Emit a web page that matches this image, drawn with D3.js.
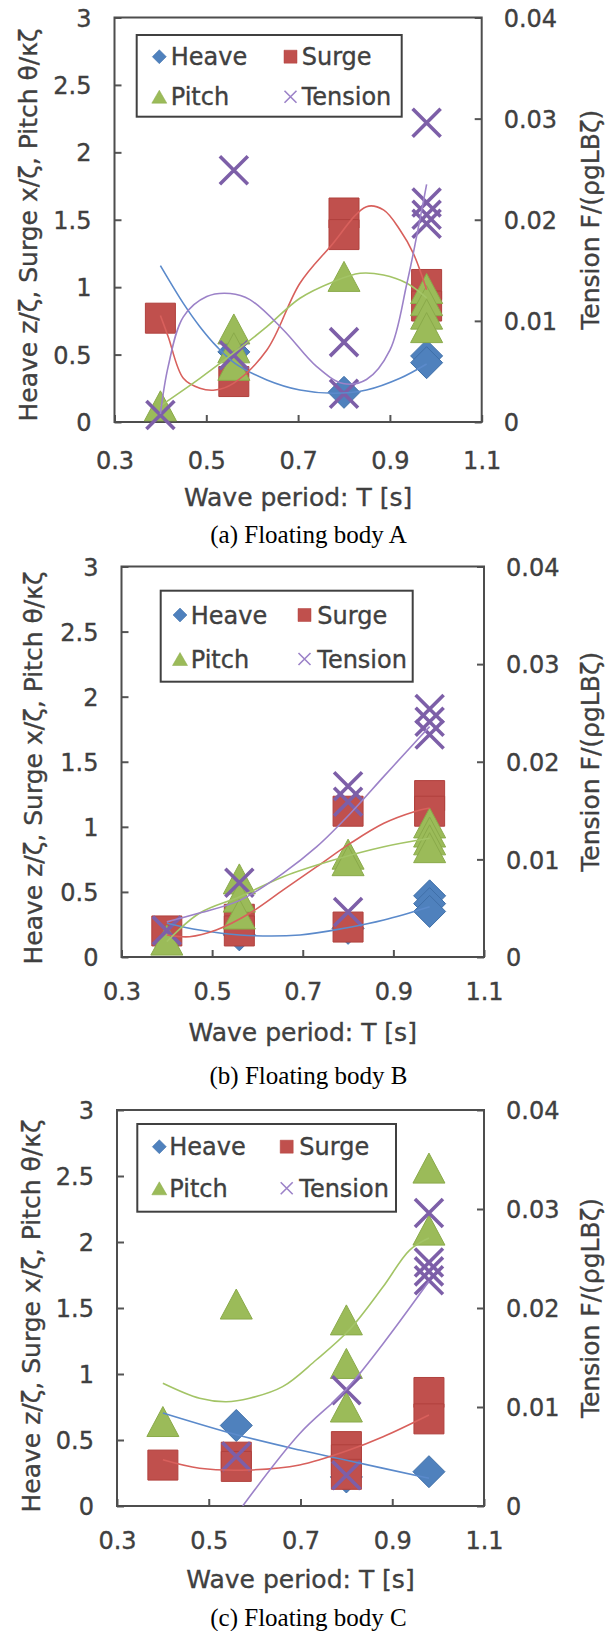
<!DOCTYPE html>
<html><head><meta charset="utf-8">
<script src="https://cdn.jsdelivr.net/npm/d3@7"></script>
<style>body{margin:0;background:#fff}svg{display:block}</style>
</head><body>
<svg id="chart" width="613" height="1631"></svg>
<script>
// ---------- tick labels / texts ----------
const xTicks = [0.3, 0.5, 0.7, 0.9, 1.1];
const yLeftTicks = [0, 0.5, 1, 1.5, 2, 2.5, 3];
const yRightTicks = [0, 0.01, 0.02, 0.03, 0.04];
const seriesNames = ["Heave", "Surge", "Pitch", "Tension"];
const captions = ["(a) Floating body A", "(b) Floating body B", "(c) Floating body C"];
const leftTitle = "Heave z/ζ, Surge x/ζ, Pitch θ/κζ";
const rightTitle = "Tension F/(ρgLBζ)";
const xTitle = "Wave period: T [s]";

// ---------- Panel A data: [T, value] ----------
const heaveA = [[0.56,0.52],[0.80,0.22],[0.98,0.49],[0.98,0.44]];
const surgeA = [[0.40,0.77],[0.56,0.30],[0.80,1.55],[0.80,1.39],[0.98,1.02],[0.98,0.86]];
const pitchA = [[0.40,0.12],[0.56,0.69],[0.56,0.55],[0.56,0.42],[0.80,1.08],[0.98,0.99],[0.98,0.90],[0.98,0.80],[0.98,0.70]];
const tensionA = [[0.40,0.0007],[0.56,0.0249],[0.56,0.0066],[0.80,0.0079],[0.80,0.0028],[0.98,0.0296],[0.98,0.0217],[0.98,0.0205],[0.98,0.0196]];
const heaveTrendA = [[0.40,1.16],[0.45,0.88],[0.486,0.707],[0.523,0.559],[0.5625,0.435],[0.632,0.312],[0.704,0.237],[0.777,0.213],[0.849,0.237],[0.922,0.324],[0.98,0.43]];
const surgeTrendA = [[0.40,0.79],[0.417,0.633],[0.45,0.324],[0.486,0.25],[0.519,0.237],[0.559,0.287],[0.632,0.534],[0.704,1.029],[0.77,1.30],[0.849,1.597],[0.886,1.573],[0.922,1.424],[0.951,1.251],[0.98,0.98]];
const pitchTrendA = [[0.40,0.12],[0.486,0.324],[0.559,0.51],[0.632,0.707],[0.704,0.918],[0.777,1.041],[0.835,1.103],[0.886,1.09],[0.937,1.029],[0.98,0.92]];
const tensionTrendA = [[0.40,0.0008],[0.417,0.0055],[0.45,0.0104],[0.501,0.0124],[0.552,0.0127],[0.595,0.0121],[0.668,0.0091],[0.74,0.0055],[0.798,0.0038],[0.849,0.0042],[0.90,0.0071],[0.937,0.0137],[0.958,0.0183],[0.98,0.0235]];

// ---------- Panel B data ----------
const heaveB = [[0.56,0.17],[0.80,0.22],[0.98,0.47],[0.98,0.41],[0.98,0.35]];
const surgeB = [[0.40,0.20],[0.56,0.29],[0.56,0.20],[0.80,1.12],[0.80,0.23],[0.98,1.24],[0.98,1.12]];
const pitchB = [[0.40,0.13],[0.56,0.60],[0.56,0.46],[0.56,0.33],[0.80,0.79],[0.80,0.74],[0.98,1.03],[0.98,0.96],[0.98,0.90],[0.98,0.84]];
const tensionB = [[0.40,0.0027],[0.56,0.0076],[0.80,0.0175],[0.80,0.0159],[0.80,0.0046],[0.98,0.0254],[0.98,0.0241],[0.98,0.0228]];
const heaveTrendB = [[0.40,0.259],[0.472,0.207],[0.561,0.169],[0.694,0.169],[0.798,0.225],[0.879,0.284],[0.98,0.386]];
const surgeTrendB = [[0.40,0.169],[0.45,0.156],[0.509,0.207],[0.583,0.336],[0.657,0.515],[0.731,0.694],[0.805,0.873],[0.879,1.027],[0.946,1.116],[0.98,1.144]];
const pitchTrendB = [[0.40,0.118],[0.472,0.336],[0.561,0.463],[0.657,0.617],[0.768,0.745],[0.879,0.847],[0.98,0.912]];
const tensionTrendB = [[0.40,0.0036],[0.472,0.0045],[0.561,0.0058],[0.657,0.0086],[0.731,0.0113],[0.805,0.0147],[0.879,0.0185],[0.946,0.0219],[0.98,0.0236]];

// ---------- Panel C data ----------
const heaveC = [[0.56,0.61],[0.80,0.22],[0.98,0.26]];
const surgeC = [[0.40,0.31],[0.56,0.37],[0.56,0.30],[0.80,0.45],[0.80,0.35],[0.80,0.24],[0.98,0.86],[0.98,0.66]];
const pitchC = [[0.40,0.64],[0.56,1.53],[0.80,1.41],[0.80,1.08],[0.80,0.75],[0.98,2.56],[0.98,2.09]];
const tensionC = [[0.56,0.0050],[0.80,0.0117],[0.80,0.0031],[0.98,0.0296],[0.98,0.0246],[0.98,0.0237],[0.98,0.0228]];
const heaveTrendC = [[0.40,0.705],[0.563,0.538],[0.698,0.424],[0.798,0.348],[0.98,0.21]];
const surgeTrendC = [[0.40,0.35],[0.48,0.286],[0.589,0.273],[0.698,0.311],[0.806,0.424],[0.88,0.525],[0.98,0.69]];
const pitchTrendC = [[0.40,0.93],[0.48,0.816],[0.538,0.79],[0.589,0.816],[0.661,0.904],[0.734,1.106],[0.806,1.333],[0.88,1.661],[0.938,1.939],[0.98,2.03]];
const tensionTrendC = [[0.574,0],[0.698,0.0073],[0.798,0.0117],[0.88,0.0164],[0.98,0.0227]];

// ---------- styling / layout ----------
const colors = {heave:"#4F81BD", surge:"#C0504D", pitch:"#9BBB59", tension:"#7D5FA8"};
const trendColors = {heave:"#5B8ACB", surge:"#D8605C", pitch:"#A3C466", tension:"#9C82C8"};
const textColor = "#404040";
const FONT = "'DejaVu Sans', Verdana, sans-serif";

const layouts = [
  {left:114.5, right:481.7, top:17.5, bottom:422,
   legend:{x0:136.7, y0:35, x1:401.7, y1:116.7, rows:[56.7,96.7], mark:[159.3,290.5], text:[170.7,301.7]},
   leftTitleX:28, leftTitleY:225, rightTitleX:590, xLabelY:460, xTitleY:498.3, captionY:535},
  {left:121.5, right:484, top:566.5, bottom:957,
   legend:{x0:160.7, y0:590.7, x1:412.7, y1:681.7, rows:[615,659], mark:[180,304.5], text:[190.7,317.3]},
   leftTitleX:33, leftTitleY:768, rightTitleX:590, xLabelY:991.7, xTitleY:1033.3, captionY:1076.7},
  {left:117, right:484, top:1110, bottom:1506,
   legend:{x0:137.3, y0:1124, x1:396, y1:1211.7, rows:[1146.7,1188.3], mark:[159.3,286.7], text:[169.3,299.3]},
   leftTitleX:31, leftTitleY:1316, rightTitleX:590, xLabelY:1540, xTitleY:1580, captionY:1618.3}
];

const panels = [
  {heave:heaveA, surge:surgeA, pitch:pitchA, tension:tensionA,
   trends:{heave:heaveTrendA, surge:surgeTrendA, pitch:pitchTrendA, tension:tensionTrendA}},
  {heave:heaveB, surge:surgeB, pitch:pitchB, tension:tensionB,
   trends:{heave:heaveTrendB, surge:surgeTrendB, pitch:pitchTrendB, tension:tensionTrendB}},
  {heave:heaveC, surge:surgeC, pitch:pitchC, tension:tensionC,
   trends:{heave:heaveTrendC, surge:surgeTrendC, pitch:pitchTrendC, tension:tensionTrendC}}
];

// marker shapes
function diamondPath(s){const h=s/2;return `M0,${-h}L${h},0L0,${h}L${-h},0Z`;}
function squarePath(s){const h=s/2;return `M${-h},${-h}H${h}V${h}H${-h}Z`;}
function trianglePath(w,h){return `M0,${-h/2}L${w/2},${h/2}L${-w/2},${h/2}Z`;}
function crossPath(s){const h=s/2;return `M${-h},${-h}L${h},${h}M${h},${-h}L${-h},${h}`;}

const svg = d3.select("#chart");

function styleText(sel, size){
  return sel.attr("fill", textColor).attr("stroke", textColor).attr("stroke-width", 0.35)
    .style("font-family", FONT).style("font-size", size + "px");
}

function drawMarkers(g, key, pts, xs, ys, big){
  const sel = g.append("g").selectAll("path").data(pts).join("path")
    .attr("transform", d => `translate(${xs(d[0])},${ys(d[1])})`);
  if (key === "heave") sel.attr("d", diamondPath(big?32:14)).attr("fill", colors.heave).attr("stroke", "#3F6FA8").attr("stroke-width", big?1:0.5);
  if (key === "surge") sel.attr("d", squarePath(big?30:13)).attr("fill", colors.surge).attr("stroke", "#B0403D").attr("stroke-width", big?1:0.5);
  if (key === "pitch") sel.attr("d", big?trianglePath(32,30):trianglePath(15,13)).attr("fill", colors.pitch).attr("stroke", "#8AAA4A").attr("stroke-width", big?1:0.5);
  if (key === "tension") sel.attr("d", crossPath(big?28:12)).attr("fill","none").attr("stroke", big?colors.tension:"#9C82C8").attr("stroke-width", big?3.6:1.6);
}

layouts.forEach((L, i) => {
  const P = panels[i];
  const g = svg.append("g");
  const x = d3.scaleLinear().domain([0.3, 1.1]).range([L.left, L.right]);
  const yL = d3.scaleLinear().domain([0, 3]).range([L.bottom, L.top]);
  const yR = d3.scaleLinear().domain([0, 0.04]).range([L.bottom, L.top]);

  // axes with inward ticks
  const axL = g.append("g").attr("transform", `translate(${L.left},0)`)
    .call(d3.axisLeft(yL).tickValues(yLeftTicks).tickFormat(d => String(d)).tickSizeInner(-7).tickSizeOuter(0).tickPadding(23));
  const axR = g.append("g").attr("transform", `translate(${L.right},0)`)
    .call(d3.axisRight(yR).tickValues(yRightTicks).tickFormat(d => String(d)).tickSizeInner(-7).tickSizeOuter(0).tickPadding(22));
  const axB = g.append("g").attr("transform", `translate(0,${L.bottom})`)
    .call(d3.axisBottom(x).tickValues(xTicks).tickFormat(d => String(d)).tickSizeInner(-7).tickSizeOuter(0));
  [axL, axR, axB].forEach(a => {
    a.select(".domain").remove();
    a.selectAll(".tick line").attr("stroke", "#555").attr("stroke-width", 2);
    styleText(a.selectAll(".tick text"), 24);
  });
  axL.selectAll(".tick text").attr("dy", "0.36em");
  axR.selectAll(".tick text").attr("dy", "0.36em");
  axB.selectAll(".tick text").attr("y", L.xLabelY - L.bottom).attr("dy", "0.36em");

  // plot frame
  g.append("rect").attr("x", L.left).attr("y", L.top).attr("width", L.right - L.left).attr("height", L.bottom - L.top)
    .attr("fill", "none").attr("stroke", "#4d4d4d").attr("stroke-width", 2);

  // markers (series order)
  drawMarkers(g, "heave", P.heave, x, yL, true);
  drawMarkers(g, "surge", P.surge, x, yL, true);
  drawMarkers(g, "pitch", P.pitch, x, yL, true);
  drawMarkers(g, "tension", P.tension, x, yR, true);

  // trendlines
  const clipId = "clip" + i;
  svg.append("clipPath").attr("id", clipId).append("rect")
    .attr("x", L.left).attr("y", L.top).attr("width", L.right - L.left).attr("height", L.bottom - L.top);
  ["heave","surge","pitch","tension"].forEach(k => {
    const ys = k === "tension" ? yR : yL;
    const line = d3.line().x(d => x(d[0])).y(d => ys(d[1])).curve(d3.curveCatmullRom.alpha(0.5));
    g.append("path").attr("d", line(P.trends[k])).attr("fill", "none")
      .attr("stroke", trendColors[k]).attr("stroke-width", 1.6).attr("clip-path", `url(#${clipId})`);
  });

  // legend
  const lg = g.append("g");
  lg.append("rect").attr("x", L.legend.x0).attr("y", L.legend.y0)
    .attr("width", L.legend.x1 - L.legend.x0).attr("height", L.legend.y1 - L.legend.y0).attr("fill", "#fff");
  const keys = ["heave","surge","pitch","tension"];
  keys.forEach((k, j) => {
    const row = Math.floor(j / 2), col = j % 2;
    const mx = L.legend.mark[col], my = L.legend.rows[row];
    const fake = d3.scaleLinear().domain([0,1]).range([mx, mx + 1]);
    const fakeY = d3.scaleLinear().domain([0,1]).range([my, my + 1]);
    drawMarkers(lg, k, [[0,0]], fake, fakeY, false);
    styleText(lg.append("text").attr("x", L.legend.text[col]).attr("y", my).attr("dy", "0.36em"), 24).text(seriesNames[j]);
  });
  lg.append("rect").attr("x", L.legend.x0).attr("y", L.legend.y0)
    .attr("width", L.legend.x1 - L.legend.x0).attr("height", L.legend.y1 - L.legend.y0)
    .attr("fill", "none").attr("stroke", "#404040").attr("stroke-width", 2);

  // axis titles
  styleText(g.append("text").attr("transform", `translate(${L.leftTitleX},${L.leftTitleY}) rotate(-90)`)
    .attr("text-anchor", "middle").attr("dy", "0.36em"), 25).text(leftTitle);
  styleText(g.append("text").attr("transform", `translate(${L.rightTitleX},${(L.top + L.bottom) / 2}) rotate(-90)`)
    .attr("text-anchor", "middle").attr("dy", "0.36em"), 25).text(rightTitle);
  styleText(g.append("text").attr("x", (L.left + L.right) / 2).attr("y", L.xTitleY).attr("dy", "0.32em")
    .attr("text-anchor", "middle"), 25).text(xTitle);
  g.append("text").attr("x", 308.5).attr("y", L.captionY).attr("dy", "0.3em")
    .attr("text-anchor", "middle").attr("fill", "#000")
    .style("font-family", "'Liberation Serif', 'Times New Roman', serif").style("font-size", "25px").text(captions[i]);
});
</script>
</body></html>
